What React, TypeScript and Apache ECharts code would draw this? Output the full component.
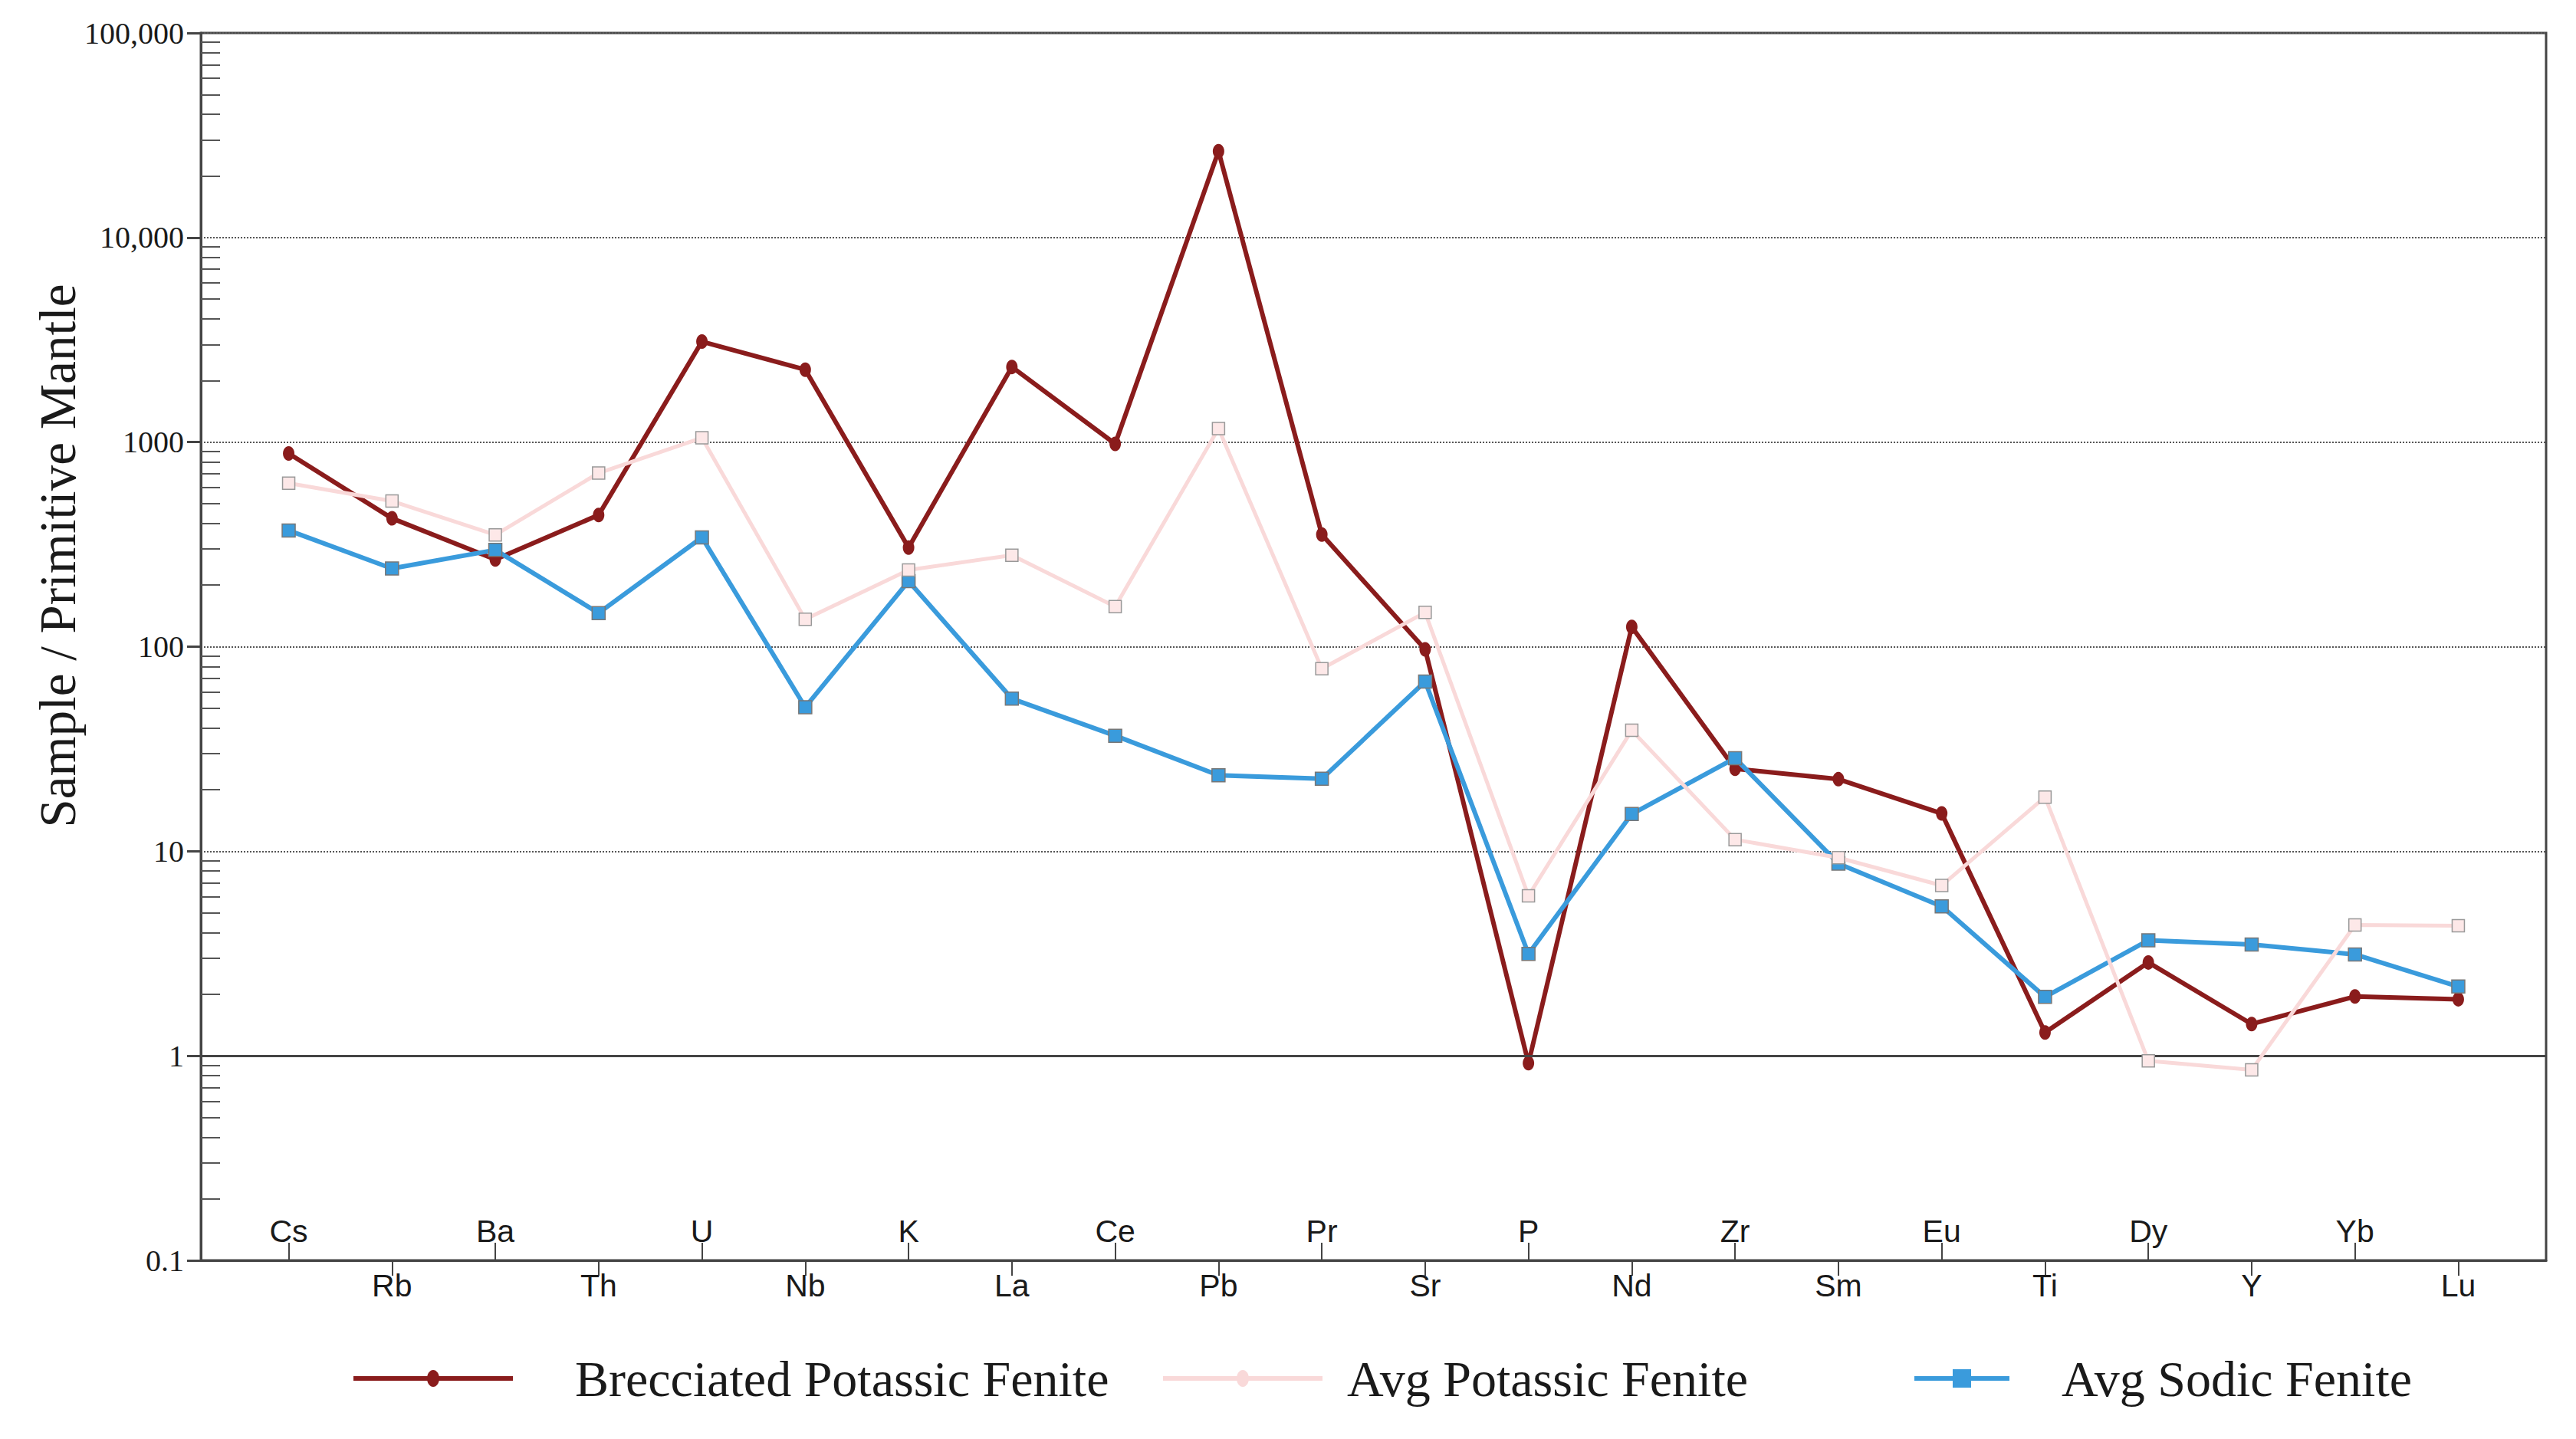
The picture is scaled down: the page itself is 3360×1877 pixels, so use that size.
import React, { useEffect, useRef } from "react";
import * as echarts from "echarts";

const categories = ["Cs", "Rb", "Ba", "Th", "U", "Nb", "K", "La", "Ce", "Pb", "Pr", "Sr", "P", "Nd", "Zr", "Sm", "Eu", "Ti", "Dy", "Y", "Yb", "Lu"];
const brecciatedPotassic = [880, 424, 267, 440, 3100, 2260, 305, 2330, 980, 26400, 353, 97, 0.92, 125, 25.3, 22.5, 15.3, 1.3, 2.86, 1.43, 1.95, 1.89];
const avgPotassic = [630, 515, 352, 706, 1050, 136, 237, 280, 157, 1165, 78, 147, 6.05, 39, 11.4, 9.3, 6.8, 18.4, 0.944, 0.853, 4.36, 4.32];
const avgSodic = [370, 241, 297, 146, 342, 50.6, 209, 55.7, 36.7, 23.5, 22.6, 67.5, 3.15, 15.2, 28.5, 8.7, 5.38, 1.94, 3.67, 3.5, 3.13, 2.18];
const seriesNames = ["Brecciated Potassic Fenite", "Avg Potassic Fenite", "Avg Sodic Fenite"];
const yTickLabels: Record<string, string> = { "0.1": "0.1", "1": "1", "10": "10", "100": "100", "1000": "1000", "10000": "10,000", "100000": "100,000" };
const yTitle = "Sample / Primitive Mantle";

const RED = "#8a1c1c";
const PINK = "#f9d9d9";
const BLUE = "#3a9bdc";

export default function App() {
  const ref = useRef<HTMLDivElement>(null);
  useEffect(() => {
    document.body.style.margin = "0";
    const chart = echarts.init(ref.current!, null, { renderer: "svg" });
    const idx = categories.map((_, i) => i);
    const evenIdx = idx.filter((i) => i % 2 === 0);
    const oddIdx = idx.filter((i) => i % 2 === 1);
    const minorTicks: number[] = [];
    for (let e = -1; e < 5; e++) {
      for (let k = 2; k <= 9; k++) minorTicks.push(e + Math.log10(k));
    }
    const toData = (arr: number[]) => arr.map((v, i) => [i, v]);
    const labelFmt = (v: number) => categories[Math.round(v)] ?? "";
    const serif = "Liberation Serif";
    const sans = "Liberation Sans";

    const legendItems = [
      { x: 461, w: 208, color: RED, sym: "circle", textX: 750 },
      { x: 1517, w: 208, color: PINK, sym: "circle", textX: 1757 },
      { x: 2497, w: 124, color: BLUE, sym: "rect", textX: 2689 },
    ];
    const legendY = 1798;
    const graphics: any[] = [];
    legendItems.forEach((it, i) => {
      graphics.push({ type: "line", shape: { x1: it.x, y1: legendY, x2: it.x + it.w, y2: legendY }, style: { stroke: it.color, lineWidth: 6 } });
      const cx = it.x + it.w / 2;
      if (it.sym === "circle") {
        graphics.push({ type: "ellipse", shape: { cx, cy: legendY, rx: 8, ry: 11 }, style: { fill: it.color } });
      } else {
        graphics.push({ type: "rect", shape: { x: cx - 12, y: legendY - 12, width: 24, height: 24 }, style: { fill: it.color } });
      }
      graphics.push({ type: "text", x: it.textX, y: legendY, style: { text: seriesNames[i], fontFamily: serif, fontSize: 66, fill: "#1a1a1a", align: "left", verticalAlign: "middle" } });
    });
    graphics.push({ type: "text", x: 75, y: 725, rotation: Math.PI / 2, style: { text: yTitle, fontFamily: serif, fontSize: 67, fill: "#1a1a1a", align: "center", verticalAlign: "middle" } });

    chart.setOption({
      animation: false,
      backgroundColor: "#ffffff",
      grid: { left: 262, top: 43, right: 39, height: 1601, show: true, borderColor: "#444", borderWidth: 3, backgroundColor: "transparent" },
      xAxis: [
        {
          type: "value", min: -0.85, max: 21.85, position: "bottom",
          axisLine: { show: true, onZero: false, lineStyle: { color: "#444", width: 3 } },
          axisTick: { show: true, customValues: oddIdx, length: 20, lineStyle: { color: "#444", width: 2 } },
          axisLabel: { customValues: oddIdx, formatter: labelFmt, fontFamily: sans, fontSize: 41, color: "#1a1a1a", margin: 12 },
          splitLine: { show: false },
        },
        {
          type: "value", min: -0.85, max: 21.85, position: "bottom",
          axisLine: { show: false, onZero: false },
          axisTick: { show: true, inside: true, customValues: evenIdx, length: 23, lineStyle: { color: "#444", width: 2 } },
          axisLabel: { inside: true, customValues: evenIdx, formatter: labelFmt, fontFamily: sans, fontSize: 41, color: "#1a1a1a", margin: 18 },
          splitLine: { show: false },
        },
      ],
      yAxis: [
        {
          type: "log", logBase: 10, min: 0.1, max: 100000, interval: 1, position: "left",
          axisLine: { show: true, onZero: false, lineStyle: { color: "#444", width: 3 } },
          axisTick: { show: true, length: 18, lineStyle: { color: "#444", width: 3 } },
          axisLabel: { formatter: (v: number) => yTickLabels[String(v)] ?? String(v), fontFamily: serif, fontSize: 40, color: "#1a1a1a", margin: 22 },
          splitLine: { show: true, lineStyle: { color: "#555", width: 2, type: "dotted" } },
        },
        {
          type: "value", min: -1, max: 5, position: "left",
          axisLine: { show: false, onZero: false },
          axisTick: { show: true, inside: true, customValues: minorTicks, length: 25, lineStyle: { color: "#555", width: 2 } },
          axisLabel: { show: false },
          splitLine: { show: false },
        },
      ],
      series: [
        {
          name: seriesNames[0], type: "line", data: toData(brecciatedPotassic), xAxisIndex: 0, yAxisIndex: 0,
          symbol: "circle", symbolSize: [15, 19], lineStyle: { color: RED, width: 6 }, itemStyle: { color: RED }, z: 3,
          markLine: { silent: true, symbol: "none", label: { show: false }, lineStyle: { color: "#444", width: 3, type: "solid" }, data: [{ yAxis: 1 }] },
        },
        {
          name: seriesNames[2], type: "line", data: toData(avgSodic), xAxisIndex: 0, yAxisIndex: 0,
          symbol: "rect", symbolSize: 17, lineStyle: { color: BLUE, width: 6 }, itemStyle: { color: BLUE, borderColor: "#777", borderWidth: 1.5 }, z: 4,
        },
        {
          name: seriesNames[1], type: "line", data: toData(avgPotassic), xAxisIndex: 0, yAxisIndex: 0,
          symbol: "rect", symbolSize: 16, lineStyle: { color: PINK, width: 5 }, itemStyle: { color: "#fde8e8", borderColor: "#999", borderWidth: 1.5 }, z: 5,
        },
      ],
      graphic: graphics,
    });
    return () => chart.dispose();
  }, []);
  return <div ref={ref} style={{ width: 3360, height: 1877 }} />;
}
